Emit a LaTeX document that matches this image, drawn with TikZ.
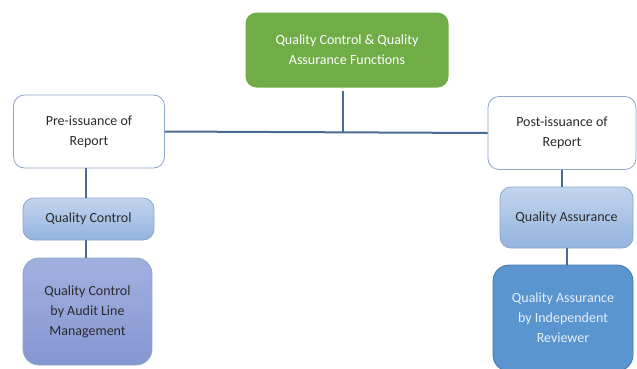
\documentclass[tikz,border=0pt]{standalone}
\usepackage{fontspec}
\setmainfont{Carlito}
\definecolor{qgreen}{HTML}{70AD47}
\definecolor{qline}{HTML}{4A6B96}
\definecolor{qedge}{HTML}{8DA5C6}
\definecolor{qcTop}{HTML}{C3D5EE}
\definecolor{qcBot}{HTML}{93B3DE}
\definecolor{lmTop}{HTML}{A2B0E0}
\definecolor{lmBot}{HTML}{8596D2}
\definecolor{irFill}{HTML}{5B95D0}
\definecolor{qtext}{HTML}{2B2B2B}
\tikzset{
  box/.style={draw=qedge, line width=0.8pt, rounded corners=11pt, align=center,
    font=\fontsize{14}{20}\selectfont, text=qtext, inner sep=2pt},
  head/.style={box, draw=none, fill=qgreen, text=white,
    minimum width=203pt, minimum height=75pt},
  stage/.style={box, fill=white, minimum width=151pt, minimum height=73pt},
  kind/.style={box, top color=qcTop, bottom color=qcBot},
  detail/.style={box, rounded corners=16pt},
  link/.style={draw=qline, line width=2pt}
}
\begin{document}
\begin{tikzpicture}[x=1pt, y=-1pt]
  \clip (0,0) rectangle (637,368);
  \fill[white] (0,0) rectangle (637,368);
  \draw
    (347,50) node[head] (qcqa){Quality Control \& Quality\\Assurance Functions}
    (89,131.5) node[stage] (pre){Pre-issuance of\\Report}
    (562,133) node[stage, minimum width=148pt] (post){Post-issuance of\\Report}
    (88.5,219) node[kind, minimum width=131pt, minimum height=42pt] (qc){Quality Control}
    (566.5,217.5) node[kind, minimum width=133pt, minimum height=61pt] (qa){Quality Assurance}
    (87.5,311.5) node[detail, top color=lmTop, bottom color=lmBot,
      minimum width=129pt, minimum height=107pt] (audit){Quality Control\\by Audit Line\\Management}
    (563,318) node[detail, fill=irFill, draw=irFill!80!black, text=white!85!irFill,
      minimum width=140pt, minimum height=106pt] (indep){Quality Assurance\\by Independent\\Reviewer};
  \coordinate (join) at (343,132.5);
  \begin{scope}[link]
    \draw (pre.east) to (post.west);
    \draw ([yshift=-3pt]qcqa.south -| join) to (join);
    \draw ([xshift=-3pt]qc.north) to ([xshift=-3pt]qc.north |- pre.south);
    \draw ([xshift=-3pt]qc.south) to ([xshift=-3pt]qc.south |- audit.north);
    \draw (qa.north -| post.south) to (post.south);
    \draw (qa.south) to (qa.south |- indep.north);
  \end{scope}
\end{tikzpicture}
\end{document}
